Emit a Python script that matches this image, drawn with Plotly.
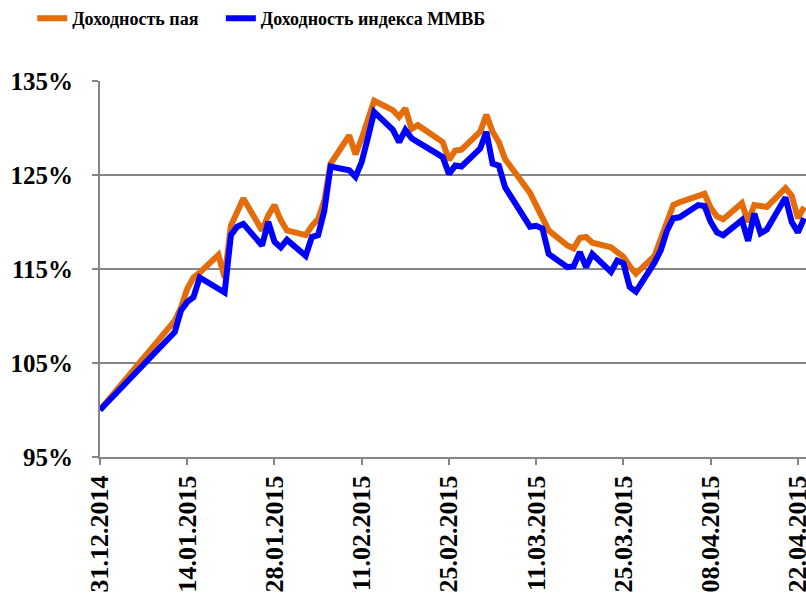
import plotly.graph_objects as go

dates = ["2014-12-31","2015-01-12","2015-01-13","2015-01-14","2015-01-15","2015-01-16","2015-01-19","2015-01-20",
         "2015-01-21","2015-01-22","2015-01-23","2015-01-26","2015-01-27","2015-01-28","2015-01-29","2015-01-30",
         "2015-02-02","2015-02-03","2015-02-04","2015-02-05","2015-02-06","2015-02-09","2015-02-10","2015-02-11",
         "2015-02-12","2015-02-13","2015-02-16","2015-02-17","2015-02-18","2015-02-19","2015-02-20","2015-02-24",
         "2015-02-25","2015-02-26","2015-02-27","2015-03-02","2015-03-03","2015-03-04","2015-03-05","2015-03-06",
         "2015-03-10","2015-03-11","2015-03-12","2015-03-13","2015-03-16","2015-03-17","2015-03-18","2015-03-19",
         "2015-03-20","2015-03-23","2015-03-24","2015-03-25","2015-03-26","2015-03-27","2015-03-30","2015-03-31",
         "2015-04-01","2015-04-02","2015-04-03","2015-04-06","2015-04-07","2015-04-08","2015-04-09","2015-04-10",
         "2015-04-13","2015-04-14","2015-04-15","2015-04-16","2015-04-17","2015-04-20","2015-04-21","2015-04-22",
         "2015-04-23"]

fund_return = [100.0, 109.5, 110.9, 112.9, 114.1, 114.6, 116.5, 114.1,
               119.6, 121.2, 122.5, 119.1, 120.7, 121.8, 120.2, 119.1,
               118.6, 119.6, 120.3, 122.3, 126.2, 129.2, 127.2, 128.9,
               131.0, 132.9, 131.9, 131.2, 132.1, 129.9, 130.3, 128.5,
               126.6, 127.6, 127.7, 129.6, 131.4, 129.6, 128.5, 126.7,
               123.1, 121.8, 120.7, 119.1, 117.5, 117.2, 118.3, 118.4,
               117.8, 117.3, 116.8, 116.3, 115.3, 114.5, 116.4, 118.1,
               120.2, 121.8, 122.1, 122.8, 123.0, 121.5, 120.6, 120.3,
               122.0, 120.0, 121.8, 121.7, 121.6, 123.6, 122.8, 120.4,
               121.6]

index_return = [100.0, 108.3, 110.6, 111.5, 112.0, 114.1, 112.9, 112.5,
                118.6, 119.5, 119.8, 117.5, 120.0, 117.9, 117.3, 118.1,
                116.4, 118.4, 118.6, 121.2, 125.9, 125.5, 124.8, 126.4,
                129.0, 131.7, 129.8, 128.5, 129.8, 128.9, 128.5, 126.9,
                125.1, 126.0, 125.9, 127.8, 129.6, 126.2, 126.0, 123.7,
                119.5, 119.6, 119.3, 116.6, 115.2, 115.3, 116.8, 115.2,
                116.6, 114.7, 115.9, 115.6, 113.1, 112.6, 115.7, 117.0,
                119.1, 120.4, 120.5, 121.8, 121.7, 120.0, 118.9, 118.6,
                120.2, 118.0, 120.9, 118.8, 119.2, 122.6, 120.0, 118.9,
                120.4]

y_ticks = [95, 105, 115, 125, 135]
y_tick_labels = ["95%", "105%", "115%", "125%", "135%"]
series_names = ["Доходность пая", "Доходность индекса ММВБ"]

FONT = "Liberation Serif"
GRAY = "#868686"
LEGEND_FONT = dict(family=FONT, size=18, weight="bold", color="black")

fig = go.Figure()
fig.add_trace(go.Scatter(x=dates, y=fund_return, mode="lines", name=series_names[0],
                         line=dict(color="#E46C0A", width=6), legend="legend"))
fig.add_trace(go.Scatter(x=dates, y=index_return, mode="lines", name=series_names[1],
                         line=dict(color="#0000FF", width=6), legend="legend2"))

fig.update_layout(
    width=806, height=603,
    margin=dict(l=100, r=0, t=81, b=146, autoexpand=False),
    plot_bgcolor="white", paper_bgcolor="white",
    font=dict(family=FONT, color="black"),
    showlegend=True,
    legend=dict(orientation="h", xref="container", yref="container",
                x=0.040, y=1.0, xanchor="left", yanchor="top",
                font=LEGEND_FONT, itemwidth=30, bgcolor="rgba(0,0,0,0)"),
    legend2=dict(orientation="h", xref="container", yref="container",
                 x=0.274, y=1.0, xanchor="left", yanchor="top",
                 font=LEGEND_FONT, itemwidth=30, bgcolor="rgba(0,0,0,0)"),
)

fig.update_xaxes(
    type="date", automargin=False,
    range=["2014-12-31", "2015-04-23 07:00"],
    tick0="2014-12-31", dtick=14 * 86400000,
    tickformat="%d.%m.%Y", tickangle=-90,
    tickfont=dict(family=FONT, size=26, weight="bold", color="black"),
    ticklabeloverflow="allow",
    showgrid=False, showline=True, linecolor=GRAY, linewidth=2,
    ticks="outside", ticklen=6, tickcolor=GRAY, tickwidth=2,
    zeroline=False,
)
fig.update_yaxes(
    range=[95, 135], automargin=False,
    tickvals=y_ticks, ticktext=y_tick_labels,
    tickfont=dict(family=FONT, size=25, weight="bold", color="black"),
    showgrid=True, gridcolor=GRAY, gridwidth=2,
    showline=True, linecolor=GRAY, linewidth=2,
    ticks="outside", ticklen=6, tickcolor=GRAY, tickwidth=2,
    ticklabelstandoff=14,
    zeroline=False,
)

fig.write_html("out.html", config={"displayModeBar": False},
               post_script="document.body.style.margin='0';document.body.style.overflow='hidden';")
